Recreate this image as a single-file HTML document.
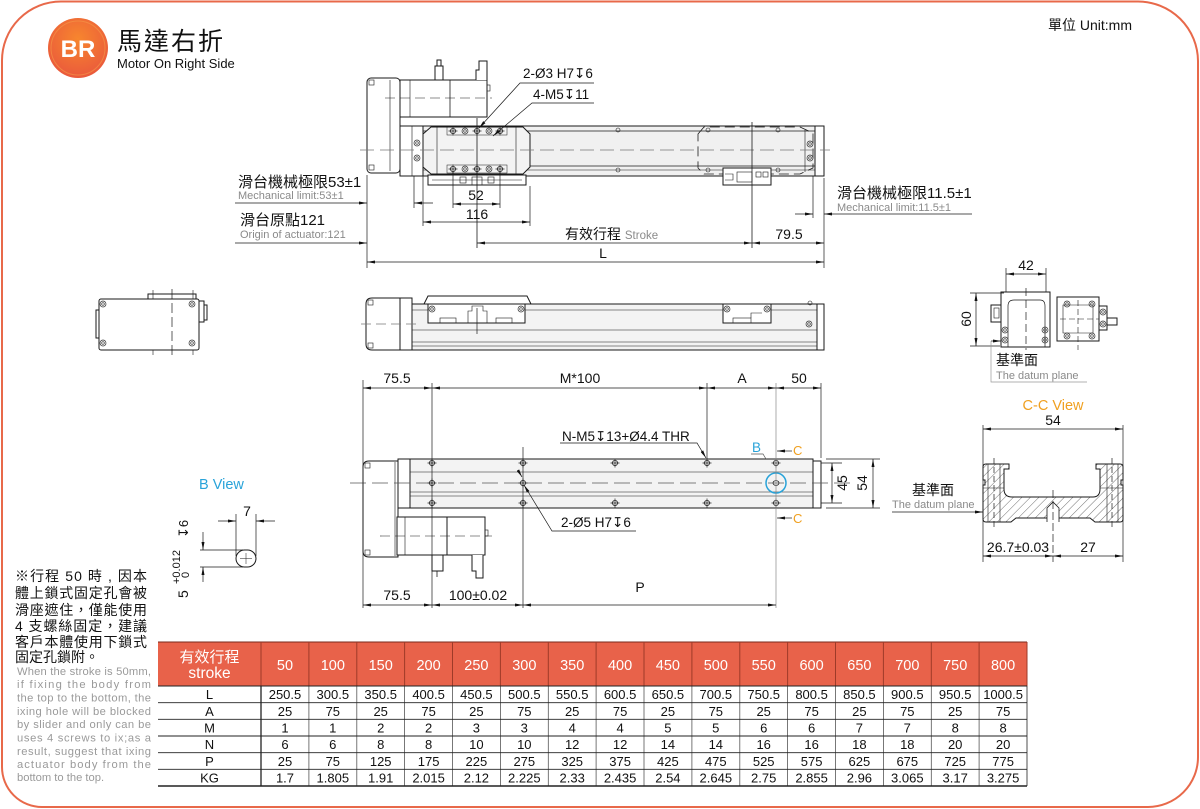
<!DOCTYPE html>
<html><head><meta charset="utf-8">
<style>
html,body{margin:0;padding:0;background:#fff;}
svg{display:block;}
text{font-family:"Liberation Sans","Noto Sans CJK TC",sans-serif;}
</style></head><body>
<svg width="1200" height="809" viewBox="0 0 1200 809" xmlns="http://www.w3.org/2000/svg">
<defs>
<marker id="a" viewBox="0 0 8 3" refX="8" refY="1.5" markerWidth="8" markerHeight="3" markerUnits="userSpaceOnUse" orient="auto-start-reverse"><path d="M0,0 L8,1.5 L0,3 z" fill="#111"/></marker>
<radialGradient id="g" cx="0.5" cy="0.35" r="0.7"><stop offset="0" stop-color="#f7862e"/><stop offset="1" stop-color="#e9563d"/></radialGradient>
<pattern id="h" width="6" height="6" patternUnits="userSpaceOnUse" patternTransform="rotate(45)"><line x1="0" y1="0" x2="0" y2="6" stroke="#333" stroke-width="0.7"/></pattern>
<g id="hx"><circle r="2.6" fill="none" stroke="#222" stroke-width="0.8"/><path d="M-4.5,0H4.5M0,-4.5V4.5" stroke="#222" stroke-width="0.7"/></g>
<g id="dc"><circle r="3" fill="none" stroke="#333" stroke-width="0.7"/><circle r="1.3" fill="none" stroke="#333" stroke-width="0.7"/></g>
</defs>

<!-- frame -->
<path d="M61,1.5 H1138 A60,60 0 0 1 1198,61 V757 A50,50 0 0 1 1148,807 H42 A40,40 0 0 1 2,767 V61 A59,59 0 0 1 61,1.5 Z" fill="none" stroke="#e8694a" stroke-width="2"/>

<!-- header -->
<circle cx="78" cy="48" r="30" fill="url(#g)"/>
<circle cx="78" cy="48" r="27" fill="none" stroke="#f59a4a" stroke-width="1" opacity="0.6"/>
<text x="78" y="57" font-size="24" font-weight="bold" fill="#fff" text-anchor="middle">BR</text>
<text x="117" y="50" font-size="25" fill="#111" letter-spacing="2">馬達右折</text>
<text x="117" y="68" font-size="13" fill="#111">Motor On Right Side</text>
<text x="1048" y="30" font-size="14" fill="#111">單位 Unit:mm</text>

<g stroke="#1a1a1a" stroke-width="1" fill="none">
<!-- ===== TOP VIEW ===== -->
<rect x="400" y="126" width="415" height="50" fill="#f0f0f0"/>
<line x1="400" y1="131" x2="815" y2="131" stroke-width="0.7"/>
<line x1="400" y1="166" x2="815" y2="166" stroke-width="0.7"/>
<line x1="400" y1="170" x2="815" y2="170" stroke-width="0.5"/>
<rect x="815" y="126" width="9" height="50" fill="#fff"/>
<line x1="805" y1="130" x2="805" y2="172" stroke-width="0.6"/>
<rect x="400" y="126" width="23" height="50" fill="#fff"/>
<line x1="412" y1="126" x2="412" y2="176" stroke-width="0.6"/>
<!-- motor housing -->
<rect x="367" y="78" width="33" height="95" rx="4" fill="#fff"/>
<line x1="390" y1="80" x2="390" y2="171" stroke-width="0.6"/>
<rect x="369" y="80" width="5" height="5" stroke-width="0.6"/>
<rect x="369" y="165" width="5" height="5" stroke-width="0.6"/>
<!-- motor -->
<rect x="400" y="80" width="87" height="37" fill="#fff"/>
<line x1="410" y1="80" x2="410" y2="117" stroke-width="0.6"/>
<line x1="450" y1="80" x2="450" y2="117" stroke-width="0.8"/>
<rect x="435" y="66" width="8" height="14" fill="#fff"/>
<rect x="437" y="60" width="4" height="6" fill="#fff"/>
<path d="M476,80 V70 H479 V61 H487 V80" fill="#fff"/>
<rect x="487" y="85" width="3" height="6" stroke-width="0.6"/>
<line x1="385" y1="98" x2="492" y2="98" stroke-dasharray="10,5" stroke-width="0.6"/>
<!-- left end circles -->
<use href="#dc" x="417" y="143"/><use href="#dc" x="417" y="158"/>
<!-- slider -->
<path d="M423,134 L431,127 H523 L530,134 V167 L523,174 H431 L423,167 Z" fill="#f3f3f3"/>
<line x1="437" y1="127" x2="437" y2="174" stroke-width="0.6"/>
<line x1="516" y1="127" x2="516" y2="174" stroke-width="0.6"/>
<rect x="447" y="127" width="60" height="8" stroke-width="0.5"/>
<rect x="447" y="165" width="60" height="8" stroke-width="0.5"/>
<use href="#hx" x="453" y="131"/><use href="#dc" x="465" y="131"/><use href="#hx" x="477" y="131"/><use href="#dc" x="489" y="131"/><use href="#hx" x="500" y="131"/>
<use href="#hx" x="453" y="169"/><use href="#dc" x="465" y="169"/><use href="#hx" x="477" y="169"/><use href="#dc" x="489" y="169"/><use href="#hx" x="500" y="169"/>
<rect x="428" y="175" width="98" height="10" fill="#fff"/>
<line x1="432" y1="180" x2="522" y2="180" stroke-width="0.6"/>
<rect x="460" y="177" width="6" height="6" stroke-width="0.6"/><rect x="472" y="177" width="10" height="8" stroke-width="0.6"/><rect x="488" y="177" width="6" height="6" stroke-width="0.6"/>
<!-- rail holes -->
<circle cx="618" cy="130" r="2" stroke-width="0.6"/><circle cx="618" cy="170" r="2" stroke-width="0.6"/>
<circle cx="708" cy="130" r="2" stroke-width="0.6"/><circle cx="708" cy="170" r="2" stroke-width="0.6"/>
<circle cx="778" cy="130" r="2" stroke-width="0.6"/><circle cx="778" cy="170" r="2" stroke-width="0.6"/>
<!-- right dashed slider -->
<path d="M698,134 L704,127 H800 L813,133 V168 L800,174 H704 L698,168 Z" stroke-dasharray="10,5" stroke-width="0.8"/>
<use href="#dc" x="810" y="144"/><use href="#dc" x="810" y="158"/>
<rect x="723" y="168" width="48" height="17" fill="#fff"/>
<rect x="737" y="172" width="15" height="10" stroke-width="0.6"/>
<rect x="756" y="172" width="5" height="5" stroke-width="0.6"/><rect x="763" y="172" width="5" height="5" stroke-width="0.6"/>
<path d="M725,174 H733 V180 H725" stroke-width="0.6"/>
<!-- center line -->
<line x1="360" y1="150" x2="830" y2="150" stroke="#777" stroke-dasharray="14,6" stroke-width="0.8"/>
<line x1="477" y1="118" x2="477" y2="248" stroke-width="0.8"/>
<line x1="752" y1="122" x2="752" y2="248" stroke-width="0.8"/>
<!-- dims top -->
<g stroke-width="0.7">
<line x1="367" y1="175" x2="367" y2="268"/>
<line x1="824" y1="178" x2="824" y2="268"/>
<line x1="414" y1="176" x2="414" y2="208"/>
<line x1="423" y1="176" x2="423" y2="226"/>
<line x1="530" y1="186" x2="530" y2="226"/>
<line x1="453" y1="172" x2="453" y2="208"/>
<line x1="500" y1="172" x2="500" y2="208"/>
<line x1="813" y1="176" x2="813" y2="218"/>
<line x1="235" y1="203" x2="367" y2="203" marker-end="url(#a)"/>
<line x1="433" y1="203" x2="414" y2="203" marker-end="url(#a)"/>
<line x1="453" y1="204" x2="500" y2="204" marker-start="url(#a)" marker-end="url(#a)"/>
<line x1="423" y1="222" x2="530" y2="222" marker-start="url(#a)" marker-end="url(#a)"/>
<line x1="235" y1="243" x2="367" y2="243" marker-end="url(#a)"/>
<line x1="477" y1="243" x2="752" y2="243" marker-start="url(#a)" marker-end="url(#a)"/>
<line x1="752" y1="243" x2="824" y2="243" marker-start="url(#a)" marker-end="url(#a)"/>
<line x1="367" y1="262" x2="824" y2="262" marker-start="url(#a)" marker-end="url(#a)"/>
<line x1="795" y1="214" x2="813" y2="214" marker-end="url(#a)"/>
<line x1="972" y1="214" x2="824" y2="214" marker-end="url(#a)"/>
<polyline points="594,83 520,83 479,128" marker-end="url(#a)"/>
<polyline points="594,103 532,103 493,136" marker-end="url(#a)"/>
</g>

<!-- ===== MIDDLE LEFT END VIEW ===== -->
<rect x="148" y="294" width="48" height="5" fill="#fff"/>
<rect x="99" y="299" width="100" height="51" rx="2" fill="#fff"/>
<rect x="96" y="310" width="3" height="28"/>
<rect x="199" y="301" width="5" height="21"/>
<rect x="204" y="305" width="3" height="15"/>
<line x1="153" y1="290" x2="153" y2="299" stroke-width="0.6"/><line x1="193" y1="290" x2="193" y2="299" stroke-width="0.6"/>
<line x1="153" y1="350" x2="153" y2="355" stroke-width="0.6"/><line x1="193" y1="350" x2="193" y2="355" stroke-width="0.6"/>
<line x1="172" y1="289" x2="172" y2="356" stroke-dasharray="10,4" stroke-width="0.7"/>
<use href="#dc" x="103" y="304"/><use href="#dc" x="192" y="304"/><use href="#dc" x="103" y="343"/><use href="#dc" x="192" y="343"/>

<!-- ===== MIDDLE SIDE VIEW ===== -->
<rect x="412" y="304" width="405" height="46" fill="#f3f3f3"/>
<line x1="412" y1="310" x2="817" y2="310" stroke-width="0.6"/>
<line x1="412" y1="330" x2="817" y2="330" stroke-width="0.6"/>
<line x1="412" y1="342" x2="817" y2="342" stroke-width="0.6"/>
<line x1="412" y1="346" x2="817" y2="346" stroke-width="0.5"/>
<rect x="817" y="304" width="7" height="46" fill="#fff"/>
<use href="#dc" x="809" y="324"/>
<circle cx="810" cy="303" r="2" stroke-width="0.6"/>
<path d="M372,298 H400 V350 H372 Q366,350 366,344 V304 Q366,298 372,298 Z" fill="#fff"/>
<rect x="368" y="300" width="5" height="5" stroke-width="0.6"/><rect x="368" y="343" width="5" height="5" stroke-width="0.6"/>
<rect x="400" y="298" width="12" height="52" fill="#fff"/>
<path d="M424,304 L428,296 H527 L531,304 Z" fill="#fff"/>
<rect x="428" y="304" width="97" height="19" fill="#fff"/>
<rect x="440" y="318" width="16" height="5" stroke-width="0.6"/><rect x="496" y="318" width="16" height="5" stroke-width="0.6"/>
<path d="M468,323 V311 H472 V306 H483 V311 H487 V323" stroke-width="0.6"/>
<line x1="477" y1="308" x2="477" y2="334" stroke-width="0.7"/>
<use href="#dc" x="432" y="309"/><use href="#dc" x="521" y="309"/>
<rect x="723" y="304" width="48" height="19" fill="#fff"/>
<rect x="733" y="318" width="18" height="5" stroke-width="0.6"/>
<path d="M751,318 V313 H762" stroke-width="0.6"/>
<use href="#dc" x="727" y="309"/><use href="#dc" x="767" y="309"/>
<line x1="361" y1="324" x2="418" y2="324" stroke="#777" stroke-dasharray="10,5" stroke-width="0.7"/>

<!-- ===== RIGHT END VIEW ===== -->
<rect x="1001" y="292" width="49" height="55" fill="#fff"/>
<path d="M1008,347 V306 Q1008,300 1014,300 H1040 Q1045,300 1045,306 V347" stroke-width="0.7"/>
<rect x="991" y="305" width="10" height="17" fill="#fff"/>
<rect x="994" y="308" width="5" height="10" stroke-width="0.6"/>
<line x1="1026" y1="288" x2="1026" y2="350" stroke-dasharray="8,4" stroke-width="0.7"/>
<use href="#dc" x="1005" y="330"/><use href="#dc" x="1005" y="340"/><use href="#dc" x="1045" y="330"/><use href="#dc" x="1045" y="340"/>
<rect x="1057" y="297" width="42" height="44" fill="#fff"/>
<path d="M1063,305 H1093 V333 H1063 Z" stroke-width="0.6"/>
<line x1="1060" y1="319" x2="1110" y2="319" stroke-dasharray="6,3" stroke-width="0.6"/>
<line x1="1078" y1="300" x2="1078" y2="350" stroke-dasharray="6,3" stroke-width="0.6"/>
<use href="#dc" x="1067" y="304"/><use href="#dc" x="1092" y="304"/><use href="#dc" x="1067" y="336"/><use href="#dc" x="1092" y="336"/>
<rect x="1099" y="306" width="8" height="24" fill="#fff"/>
<use href="#dc" x="1103" y="312"/><use href="#dc" x="1103" y="324"/>
<rect x="1107" y="318" width="10" height="7" fill="#fff"/>
<g stroke-width="0.7">
<line x1="1006" y1="268" x2="1006" y2="292"/><line x1="1046" y1="268" x2="1046" y2="292"/>
<line x1="1006" y1="274" x2="1046" y2="274" marker-start="url(#a)" marker-end="url(#a)"/>
<line x1="970" y1="293" x2="1004" y2="293"/><line x1="970" y1="346" x2="1000" y2="346"/>
<line x1="976" y1="293" x2="976" y2="346" marker-start="url(#a)" marker-end="url(#a)"/>
<polyline points="1087,382 991,382 991,341" stroke="#999"/>
<line x1="991" y1="341" x2="1001" y2="341" marker-end="url(#a)"/>
</g>

<!-- ===== BOTTOM VIEW ===== -->
<rect x="410" y="459" width="403" height="49" fill="#f3f3f3"/>
<line x1="410" y1="472" x2="813" y2="472" stroke-width="0.6"/>
<line x1="410" y1="492" x2="813" y2="492" stroke-width="0.6"/>
<line x1="410" y1="496" x2="813" y2="496" stroke-width="0.5"/>
<rect x="813" y="461" width="8" height="47" fill="#fff"/>
<path d="M369,461 H398 V557 H369 Q363,557 363,551 V467 Q363,461 369,461 Z" fill="#fff"/>
<line x1="395" y1="462" x2="395" y2="556" stroke-width="0.6"/>
<rect x="365" y="463" width="5" height="5" stroke-width="0.6"/><rect x="365" y="550" width="5" height="5" stroke-width="0.6"/>
<rect x="398" y="459" width="12" height="49" fill="#fff"/>
<rect x="397" y="517" width="50" height="38" fill="#fff"/>
<rect x="447" y="517" width="38" height="38" fill="#fff"/>
<line x1="405" y1="517" x2="405" y2="555" stroke-width="0.6"/>
<rect x="485" y="530" width="3" height="6" stroke-width="0.6"/>
<rect x="432" y="555" width="11" height="16" fill="#fff"/>
<line x1="437" y1="571" x2="437" y2="577" stroke-width="0.8"/>
<path d="M472,555 V571 H476 V578 H483 V555" fill="#fff"/>
<line x1="380" y1="536" x2="492" y2="536" stroke-dasharray="10,5" stroke-width="0.6"/>
<line x1="350" y1="483" x2="852" y2="483" stroke="#555" stroke-dasharray="16,6" stroke-width="0.7"/>
<use href="#hx" x="432" y="463"/><use href="#hx" x="523" y="463"/><use href="#hx" x="615" y="463"/><use href="#hx" x="707" y="463"/><use href="#hx" x="776" y="463"/>
<use href="#hx" x="432" y="483"/><use href="#hx" x="523" y="483"/>
<use href="#hx" x="432" y="503"/><use href="#hx" x="523" y="503"/><use href="#hx" x="615" y="503"/><use href="#hx" x="707" y="503"/><use href="#hx" x="776" y="503"/>
<ellipse cx="776" cy="483" rx="3" ry="2.4" stroke-width="0.7"/>
<circle cx="776" cy="483" r="10" stroke="#29a3d9" stroke-width="1.5"/>
<g stroke-width="0.7">
<line x1="363" y1="380" x2="363" y2="608"/>
<line x1="432" y1="383" x2="432" y2="608"/>
<line x1="707" y1="383" x2="707" y2="459"/>
<line x1="776" y1="383" x2="776" y2="608" stroke="#888"/>
<line x1="821" y1="383" x2="821" y2="458"/>
<line x1="523" y1="447" x2="523" y2="608"/>
<line x1="363" y1="388" x2="432" y2="388" marker-start="url(#a)" marker-end="url(#a)"/>
<line x1="432" y1="388" x2="707" y2="388" marker-start="url(#a)" marker-end="url(#a)"/>
<line x1="707" y1="388" x2="776" y2="388" marker-start="url(#a)" marker-end="url(#a)"/>
<line x1="776" y1="388" x2="821" y2="388" marker-start="url(#a)" marker-end="url(#a)"/>
<line x1="363" y1="605" x2="432" y2="605" marker-start="url(#a)" marker-end="url(#a)"/>
<line x1="432" y1="605" x2="523" y2="605" marker-start="url(#a)" marker-end="url(#a)"/>
<line x1="523" y1="605" x2="776" y2="605" marker-start="url(#a)" marker-end="url(#a)"/>
<polyline points="560,443 697,443 706,458" marker-end="url(#a)"/>
<polyline points="636,531 552,531 524,485" marker-end="url(#a)"/>
<line x1="519" y1="472" x2="522" y2="477" marker-end="url(#a)"/>
<polyline points="751,454 763,454 766,459" stroke="#555"/>
<line x1="792" y1="451" x2="777" y2="451" marker-end="url(#a)"/>
<line x1="792" y1="518" x2="777" y2="518" marker-end="url(#a)"/>
<line x1="821" y1="463" x2="842" y2="463"/><line x1="821" y1="503" x2="842" y2="503"/>
<line x1="832" y1="463" x2="832" y2="503" marker-start="url(#a)" marker-end="url(#a)"/>
<line x1="826" y1="459" x2="880" y2="459"/><line x1="826" y1="508" x2="880" y2="508"/>
<line x1="873" y1="459" x2="873" y2="508" marker-start="url(#a)" marker-end="url(#a)"/>
</g>

<!-- ===== B VIEW ===== -->
<g stroke-width="0.7">
<line x1="218" y1="521" x2="236" y2="521" marker-end="url(#a)"/>
<line x1="275" y1="521" x2="256" y2="521" marker-end="url(#a)"/>
<line x1="236" y1="514" x2="236" y2="556"/><line x1="256" y1="514" x2="256" y2="556"/>
<line x1="200" y1="550" x2="243" y2="550"/><line x1="200" y1="567" x2="243" y2="567"/>
<line x1="203" y1="532" x2="203" y2="550" marker-end="url(#a)"/>
<line x1="203" y1="582" x2="203" y2="567" marker-end="url(#a)"/>
</g>
<rect x="236" y="550" width="20" height="17" rx="8.5" fill="#fff" stroke-width="1"/>
<path d="M240,558.5 H252 M246,553 V564" stroke-width="0.5"/>

<!-- ===== C-C VIEW ===== -->
<path d="M983,467 Q983,464 986,464 H1009 V469 H1004 V489 Q1004,497 1012,497 H1093 Q1100,497 1100,489 V469 H1096 V464 H1120 Q1123,464 1123,467 V480 H1121 V485 H1123 V519 Q1123,522 1120,522 H1095 L1090,518 H1016 L1011,522 H986 Q983,522 983,519 V485 H985 V480 H983 Z" fill="url(#h)" stroke-width="1"/>
<path d="M1047,522 V508 L1053,502 L1059,508 V522" fill="#fff" stroke-width="0.8"/>
<g stroke-width="0.6">
<line x1="988" y1="464" x2="988" y2="522"/><line x1="1000" y1="464" x2="1000" y2="522"/>
<line x1="1107" y1="464" x2="1107" y2="522"/><line x1="1118" y1="464" x2="1118" y2="522"/>
<line x1="983" y1="488" x2="1004" y2="488"/><line x1="1100" y1="488" x2="1123" y2="488"/>
</g>
<g stroke-width="0.7">
<line x1="994" y1="458" x2="994" y2="528" stroke-dasharray="6,3"/>
<line x1="1112" y1="458" x2="1112" y2="528" stroke-dasharray="6,3"/>
<line x1="1053" y1="490" x2="1053" y2="562" stroke-dasharray="8,3"/>
<line x1="983" y1="425" x2="983" y2="562"/><line x1="1123" y1="425" x2="1123" y2="562"/>
<line x1="983" y1="429" x2="1123" y2="429" marker-start="url(#a)" marker-end="url(#a)"/>
<line x1="983" y1="556" x2="1053" y2="556" marker-start="url(#a)" marker-end="url(#a)"/>
<line x1="1053" y1="556" x2="1123" y2="556" marker-start="url(#a)" marker-end="url(#a)"/>
<line x1="892" y1="512" x2="983" y2="512" marker-end="url(#a)"/>
</g>
</g>

<!-- ===== TEXT ===== -->
<g font-size="13.5" fill="#111">
<text x="523" y="78">2-Ø3 H7↧6</text>
<text x="533" y="99">4-M5↧11</text>
<text x="476" y="200" text-anchor="middle" font-size="14">52</text>
<text x="477" y="219" text-anchor="middle" font-size="14">116</text>
<text x="238" y="187" font-size="15">滑台機械極限53±1</text>
<text x="238" y="199" font-size="11" fill="#8a8a8a">Mechanical limit:53±1</text>
<text x="240" y="225" font-size="15">滑台原點121</text>
<text x="240" y="238" font-size="11" fill="#8a8a8a">Origin of actuator:121</text>
<text x="565" y="239" font-size="14">有效行程 <tspan font-size="11.5" fill="#8a8a8a">Stroke</tspan></text>
<text x="789" y="239" text-anchor="middle" font-size="14">79.5</text>
<text x="603" y="258" text-anchor="middle" font-size="14">L</text>
<text x="837" y="198" font-size="15">滑台機械極限11.5±1</text>
<text x="837" y="211" font-size="11" fill="#8a8a8a">Mechanical limit:11.5±1</text>

<text x="1026" y="270" text-anchor="middle" font-size="14">42</text>
<text transform="translate(971,319) rotate(-90)" text-anchor="middle" font-size="14">60</text>
<text x="996" y="365" font-size="14">基準面</text>
<text x="996" y="379" font-size="11" fill="#8a8a8a">The datum plane</text>

<text x="397" y="383" text-anchor="middle" font-size="14">75.5</text>
<text x="580" y="383" text-anchor="middle" font-size="14">M*100</text>
<text x="742" y="383" text-anchor="middle" font-size="14">A</text>
<text x="799" y="383" text-anchor="middle" font-size="14">50</text>
<text x="562" y="441">N-M5↧13+Ø4.4 THR</text>
<text x="752" y="452" fill="#29a3d9" font-size="13.5">B</text>
<text x="793" y="455" fill="#f0a020" font-size="13">C</text>
<text x="793" y="523" fill="#f0a020" font-size="13">C</text>
<text x="561" y="527">2-Ø5 H7↧6</text>
<text transform="translate(847,483) rotate(-90)" text-anchor="middle" font-size="14">45</text>
<text transform="translate(867,483) rotate(-90)" text-anchor="middle" font-size="14">54</text>
<text x="397" y="600" text-anchor="middle" font-size="14">75.5</text>
<text x="478" y="600" text-anchor="middle" font-size="14">100±0.02</text>
<text x="640" y="592" text-anchor="middle" font-size="14">P</text>

<text x="199" y="489" fill="#29a3d9" font-size="14.5">B View</text>
<text x="247" y="516" text-anchor="middle" font-size="14">7</text>
<g transform="translate(188,598) rotate(-90)">
<text x="0" y="0" font-size="14">5</text>
<text x="14" y="-8" font-size="11">+0.012</text>
<text x="20" y="1" font-size="11">0</text>
<text x="60" y="0" font-size="13">↧6</text>
</g>

<text x="1053" y="410" text-anchor="middle" fill="#f0a020" font-size="14.5">C-C View</text>
<text x="1053" y="425" text-anchor="middle" font-size="14">54</text>
<text x="912" y="495" font-size="14">基準面</text>
<text x="892" y="508" font-size="11" fill="#8a8a8a">The datum plane</text>
<text x="1018" y="552" text-anchor="middle" font-size="14">26.7±0.03</text>
<text x="1088" y="552" text-anchor="middle" font-size="14">27</text>
</g>

<!-- note -->
<g font-size="14" fill="#111">
<text x="15" y="581" textLength="132">※行程 50 時 , 因本</text>
<text x="15" y="598" textLength="132">體上鎖式固定孔會被</text>
<text x="15" y="615" textLength="132">滑座遮住，僅能使用</text>
<text x="15" y="631" textLength="132">4 支螺絲固定，建議</text>
<text x="15" y="647" textLength="132">客戶本體使用下鎖式</text>
<text x="15" y="662">固定孔鎖附。</text>
</g>
<g font-size="11.2" fill="#9a9a9a">
<text x="17" y="675" textLength="134" lengthAdjust="spacing">When the stroke is 50mm,</text>
<text x="17" y="688" textLength="134" lengthAdjust="spacing">if fixing the body from</text>
<text x="17" y="701.5" textLength="134" lengthAdjust="spacing">the top to the bottom, the</text>
<text x="17" y="715" textLength="134" lengthAdjust="spacing">ixing hole will be blocked</text>
<text x="17" y="728" textLength="134" lengthAdjust="spacing">by slider and only can be</text>
<text x="17" y="741.5" textLength="134" lengthAdjust="spacing">uses 4 screws to ix;as a</text>
<text x="17" y="755" textLength="134" lengthAdjust="spacing">result, suggest that ixing</text>
<text x="17" y="768" textLength="134" lengthAdjust="spacing">actuator body from the</text>
<text x="17" y="781">bottom to the top.</text>
</g>

<!-- ===== TABLE ===== -->
<rect x="158" y="642" width="869" height="44" fill="#e8624a"/>
<g stroke="#9e3a28" stroke-width="1">
<line x1="158" y1="642" x2="1027" y2="642" stroke="#7a2a1c"/>
<line x1="261" y1="642" x2="261" y2="686"/>
<line x1="308.9" y1="642" x2="308.9" y2="686"/><line x1="356.8" y1="642" x2="356.8" y2="686"/><line x1="404.6" y1="642" x2="404.6" y2="686"/><line x1="452.5" y1="642" x2="452.5" y2="686"/><line x1="500.4" y1="642" x2="500.4" y2="686"/><line x1="548.3" y1="642" x2="548.3" y2="686"/><line x1="596.1" y1="642" x2="596.1" y2="686"/><line x1="644" y1="642" x2="644" y2="686"/><line x1="691.9" y1="642" x2="691.9" y2="686"/><line x1="739.8" y1="642" x2="739.8" y2="686"/><line x1="787.6" y1="642" x2="787.6" y2="686"/><line x1="835.5" y1="642" x2="835.5" y2="686"/><line x1="883.4" y1="642" x2="883.4" y2="686"/><line x1="931.3" y1="642" x2="931.3" y2="686"/><line x1="979.1" y1="642" x2="979.1" y2="686"/><line x1="1027" y1="642" x2="1027" y2="686"/>
</g>
<g stroke="#555" stroke-width="0.8">
<line x1="261" y1="686" x2="261" y2="786" stroke="#333" stroke-width="1.4"/>
<line x1="308.9" y1="686" x2="308.9" y2="786"/><line x1="356.8" y1="686" x2="356.8" y2="786"/><line x1="404.6" y1="686" x2="404.6" y2="786"/><line x1="452.5" y1="686" x2="452.5" y2="786"/><line x1="500.4" y1="686" x2="500.4" y2="786"/><line x1="548.3" y1="686" x2="548.3" y2="786"/><line x1="596.1" y1="686" x2="596.1" y2="786"/><line x1="644" y1="686" x2="644" y2="786"/><line x1="691.9" y1="686" x2="691.9" y2="786"/><line x1="739.8" y1="686" x2="739.8" y2="786"/><line x1="787.6" y1="686" x2="787.6" y2="786"/><line x1="835.5" y1="686" x2="835.5" y2="786"/><line x1="883.4" y1="686" x2="883.4" y2="786"/><line x1="931.3" y1="686" x2="931.3" y2="786"/><line x1="979.1" y1="686" x2="979.1" y2="786"/><line x1="1027" y1="686" x2="1027" y2="786" stroke="#222"/>
</g>
<g stroke="#222" stroke-width="0.9">
<line x1="158" y1="686" x2="1027" y2="686"/>
<line x1="158" y1="702.7" x2="1027" y2="702.7"/>
<line x1="158" y1="719.3" x2="1027" y2="719.3"/>
<line x1="158" y1="736" x2="1027" y2="736"/>
<line x1="158" y1="752.7" x2="1027" y2="752.7"/>
<line x1="158" y1="769.3" x2="1027" y2="769.3"/>
<line x1="158" y1="786" x2="1027" y2="786" stroke-width="1.6"/>
</g>
<g fill="#fff" text-anchor="middle">
<text x="209.5" y="662" font-size="15">有效行程</text>
<text x="209.5" y="678" font-size="15.5">stroke</text>
<g font-size="14.5">
<text x="285" y="670">50</text><text x="332.8" y="670">100</text><text x="380.7" y="670">150</text><text x="428.6" y="670">200</text><text x="476.4" y="670">250</text><text x="524.3" y="670">300</text><text x="572.2" y="670">350</text><text x="620.1" y="670">400</text><text x="667.9" y="670">450</text><text x="715.8" y="670">500</text><text x="763.7" y="670">550</text><text x="811.6" y="670">600</text><text x="859.4" y="670">650</text><text x="907.3" y="670">700</text><text x="955.2" y="670">750</text><text x="1003.1" y="670">800</text>
</g>
</g>
<g fill="#111" text-anchor="middle" font-size="13">
<text x="209.5" y="699">L</text><text x="209.5" y="716">A</text><text x="209.5" y="732.5">M</text><text x="209.5" y="749">N</text><text x="209.5" y="766">P</text><text x="209.5" y="782.5">KG</text>
<g>
<text x="285" y="699">250.5</text><text x="332.8" y="699">300.5</text><text x="380.7" y="699">350.5</text><text x="428.6" y="699">400.5</text><text x="476.4" y="699">450.5</text><text x="524.3" y="699">500.5</text><text x="572.2" y="699">550.5</text><text x="620.1" y="699">600.5</text><text x="667.9" y="699">650.5</text><text x="715.8" y="699">700.5</text><text x="763.7" y="699">750.5</text><text x="811.6" y="699">800.5</text><text x="859.4" y="699">850.5</text><text x="907.3" y="699">900.5</text><text x="955.2" y="699">950.5</text><text x="1003.1" y="699">1000.5</text>
</g>
<g>
<text x="285" y="716">25</text><text x="332.8" y="716">75</text><text x="380.7" y="716">25</text><text x="428.6" y="716">75</text><text x="476.4" y="716">25</text><text x="524.3" y="716">75</text><text x="572.2" y="716">25</text><text x="620.1" y="716">75</text><text x="667.9" y="716">25</text><text x="715.8" y="716">75</text><text x="763.7" y="716">25</text><text x="811.6" y="716">75</text><text x="859.4" y="716">25</text><text x="907.3" y="716">75</text><text x="955.2" y="716">25</text><text x="1003.1" y="716">75</text>
</g>
<g>
<text x="285" y="732.5">1</text><text x="332.8" y="732.5">1</text><text x="380.7" y="732.5">2</text><text x="428.6" y="732.5">2</text><text x="476.4" y="732.5">3</text><text x="524.3" y="732.5">3</text><text x="572.2" y="732.5">4</text><text x="620.1" y="732.5">4</text><text x="667.9" y="732.5">5</text><text x="715.8" y="732.5">5</text><text x="763.7" y="732.5">6</text><text x="811.6" y="732.5">6</text><text x="859.4" y="732.5">7</text><text x="907.3" y="732.5">7</text><text x="955.2" y="732.5">8</text><text x="1003.1" y="732.5">8</text>
</g>
<g>
<text x="285" y="749">6</text><text x="332.8" y="749">6</text><text x="380.7" y="749">8</text><text x="428.6" y="749">8</text><text x="476.4" y="749">10</text><text x="524.3" y="749">10</text><text x="572.2" y="749">12</text><text x="620.1" y="749">12</text><text x="667.9" y="749">14</text><text x="715.8" y="749">14</text><text x="763.7" y="749">16</text><text x="811.6" y="749">16</text><text x="859.4" y="749">18</text><text x="907.3" y="749">18</text><text x="955.2" y="749">20</text><text x="1003.1" y="749">20</text>
</g>
<g>
<text x="285" y="766">25</text><text x="332.8" y="766">75</text><text x="380.7" y="766">125</text><text x="428.6" y="766">175</text><text x="476.4" y="766">225</text><text x="524.3" y="766">275</text><text x="572.2" y="766">325</text><text x="620.1" y="766">375</text><text x="667.9" y="766">425</text><text x="715.8" y="766">475</text><text x="763.7" y="766">525</text><text x="811.6" y="766">575</text><text x="859.4" y="766">625</text><text x="907.3" y="766">675</text><text x="955.2" y="766">725</text><text x="1003.1" y="766">775</text>
</g>
<g>
<text x="285" y="782.5">1.7</text><text x="332.8" y="782.5">1.805</text><text x="380.7" y="782.5">1.91</text><text x="428.6" y="782.5">2.015</text><text x="476.4" y="782.5">2.12</text><text x="524.3" y="782.5">2.225</text><text x="572.2" y="782.5">2.33</text><text x="620.1" y="782.5">2.435</text><text x="667.9" y="782.5">2.54</text><text x="715.8" y="782.5">2.645</text><text x="763.7" y="782.5">2.75</text><text x="811.6" y="782.5">2.855</text><text x="859.4" y="782.5">2.96</text><text x="907.3" y="782.5">3.065</text><text x="955.2" y="782.5">3.17</text><text x="1003.1" y="782.5">3.275</text>
</g>
</g>
</svg>
</body></html>
